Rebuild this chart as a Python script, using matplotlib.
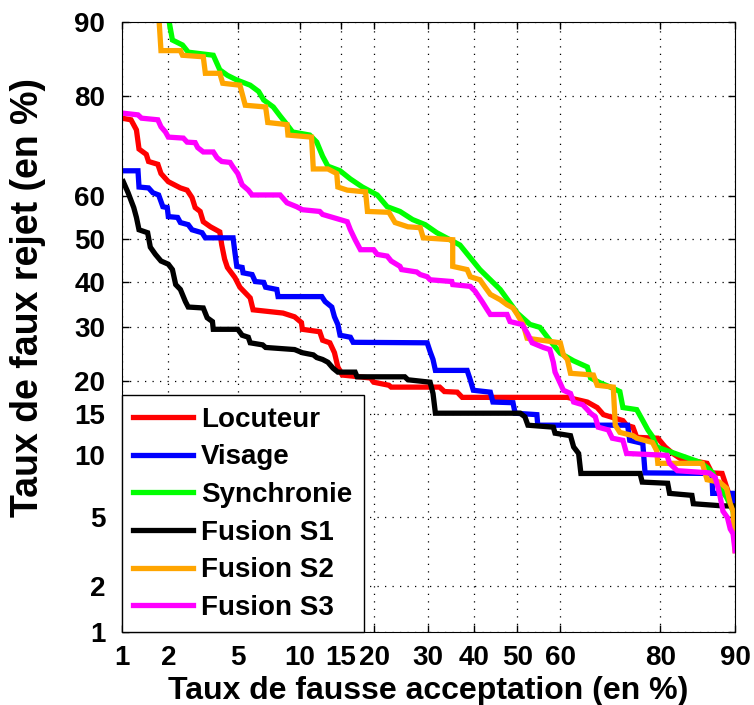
from statistics import NormalDist

import matplotlib
matplotlib.use("Agg")
import matplotlib.pyplot as plt
import numpy as np

# DET curves, values in percent (false acceptance, false rejection)
tick_values = [1, 2, 5, 10, 15, 20, 30, 40, 50, 60, 80, 90]

locuteur_fa = [1.0, 1.15, 1.25, 1.3, 1.45, 1.5, 1.72, 1.8, 2.0, 2.37, 2.6, 2.78, 2.9, 3.1, 3.23, 3.55,
               4.0, 4.1, 4.25, 4.4, 4.83, 5.13, 5.8, 6.0, 8.4, 9.5, 10.2, 10.3, 12.25, 12.6, 13.5, 14.1,
               14.55, 15.15, 19.4, 19.9, 22.5, 22.9, 32.4, 33.4, 36.2, 37.3, 61.6, 66, 68.1, 69.4, 73.3,
               74, 75.2, 75.9, 79.6, 80.8, 82, 83.1, 86.8, 87.4, 88.6, 89.1, 89.8, 90]
locuteur_fr = [76.2, 75.9, 74, 70.2, 69.1, 67.6, 67, 65, 63.2, 61.8, 61.3, 59.6, 57.3, 56.4, 54, 52.8,
               51.6, 48.5, 45.2, 43.25, 40.9, 38.7, 36.3, 33.7, 33, 32.2, 31, 29.6, 29.1, 27.4, 26.9, 25,
               22.4, 21, 20.5, 19.8, 19.3, 19, 19, 18.3, 18.2, 17.4, 17.4, 16.7, 15.9, 14.9, 14.1,
               13.5, 13.25, 12, 11.9, 10.9, 10.2, 9.7, 9.2, 8.3, 8.25, 7.1, 5.7, 4.5]

visage_fa = [1.02, 1.28, 1.3, 1.5, 1.6, 1.74, 1.85, 1.97, 2.0, 2.28, 2.37, 2.64, 2.78, 3.18, 3.32, 4.72,
             4.83, 4.94, 5.27, 5.33, 5.93, 6.15, 6.78, 6.93, 7.85, 7.96, 12.5, 12.9, 13.75, 14.1, 14.55,
             14.85, 16.3, 16.7, 29.8, 30.4, 31, 31.5, 38.4, 39.1, 39.8, 43.7, 44.3, 49, 49.5, 54.6, 54.8,
             74.2, 74.6, 77, 77.4, 87.4, 87.5, 89.8, 90]
visage_fr = [65.6, 65.6, 62, 61.8, 60.7, 60.2, 57.5, 57.3, 55.2, 55, 53.8, 53.3, 52.1, 51.4, 50.2, 50.2,
             46.7, 43.5, 43.25, 42, 41.6, 40, 39.8, 38.7, 38.2, 36.6, 36.6, 35.5, 34.3, 32.2, 30.6,
             28.4, 28, 27, 26.9, 25.2, 23.75, 21.8, 21.8, 20.2, 18.5, 18.2, 16.7, 16.6, 15.1, 14.9, 13.5,
             13.5, 11.65, 11.3, 8.3, 8.25, 6.6, 6.6, 5.35]

synchro_fa = [1.92, 2.12, 2.44, 2.64, 3.68, 4.0, 4.4, 4.94, 5.8, 6.4, 6.78, 7.55, 8.14, 8.77, 9.3, 11.1,
              11.9, 12.6, 13.25, 14.85, 16.3, 18.1, 20.5, 22.2, 24.5, 26.9, 29.4, 31.8, 34.6, 36.8, 41.3,
              46, 50, 53, 55.3, 57.6, 60, 63, 66, 66.7, 68.7, 71.4, 72.7, 73.3, 75.9, 77, 77.9, 78.7,
              79.4, 85.9, 86.8, 87.5, 88, 89.1, 89.8, 90]
synchro_fr = [92, 88, 87.4, 86.5, 86.1, 84.1, 83.3, 82.6, 81.8, 80.8, 79.4, 78.2, 76.6, 75, 73.6, 73,
              71.6, 68.7, 66.6, 65.6, 63.8, 62, 60.2, 57.5, 56.4, 54.5, 53.3, 51.4, 49.75, 48.5, 42.75,
              38.2, 33, 30.6, 30, 27.4, 24.9, 23.5, 22.4, 20.5, 19.7, 18.8, 18.3, 15.9, 15.6, 14.1, 12.9, 12.1,
              10.9, 9.3, 8.8, 8.3, 7.4, 6.3, 5.35, 4.5]

s1_fa = [1.02, 1.1, 1.2, 1.25, 1.3, 1.48, 1.54, 1.66, 1.8, 2.0, 2.12, 2.22, 2.37, 2.54, 2.64, 3.23, 3.4,
         3.64, 3.68, 5.0, 5.27, 5.67, 5.8, 6.7, 6.93, 9.5, 10.3, 11.5, 11.9, 12.6, 13.25, 13.9, 14.55, 17,
         17.3, 25.4, 26, 30.4, 31, 31.5, 50.7, 51.8, 52.5, 58.4, 58.8, 62.3, 63, 64.1, 64.6, 76.5, 76.9,
         81.2, 81.5, 84.8, 85, 88.7, 90]
s1_fr = [63.2, 60.7, 57.3, 55, 52.1, 51.4, 48, 46.3, 44.75, 44, 42.75, 39.3, 38.2, 35.5, 34.3, 34.1, 32,
         31.2, 29.6, 29.6, 28.4, 28, 26.9, 26.5, 26, 25.6, 25, 24.6, 24.1, 23.75, 23.25, 22.2, 21.5, 21.5,
         20.7, 20.7, 20.2, 19.8, 18, 15.1, 15.1, 14.6, 13.5, 13.25, 12.5, 12.2, 10.9, 10.2, 8.25, 8.25, 7.5,
         7.4, 6.6, 6.45, 5.85, 5.7, 5.7]

s2_fa = [1.72, 1.8, 2.37, 2.44, 3.23, 3.32, 4.0, 4.15, 5.13, 5.47, 6.93, 7.1, 8.77, 8.86, 11.3, 11.5,
         13.25, 14.4, 14.55, 15.85, 18.6, 18.9, 22.5, 23.6, 26, 28.4, 29, 35.2, 35.2, 38.4, 39.1, 41.3,
         42.5, 43.7, 46, 47.6, 49, 50, 51.4, 52.3, 60, 60.7, 61.6, 62.3, 67.3, 68.1, 71.4, 71.8, 72.7,
         75.2, 75.9, 78.7, 79.4, 79.6, 86.2, 86.8, 88.3, 89.1, 89.5, 89.8, 90]
s2_fr = [92, 86.7, 86.7, 86.1, 85.9, 83.6, 83.6, 82.1, 81.8, 78.5, 78.2, 75.4, 75, 73, 72.6, 66,
         66, 65, 62, 61.3, 60.9, 56.4, 56.2, 53.8, 52.8, 52.6, 50.2, 49.75, 43.5, 42.75, 41.1, 40.4,
         38.7, 37.1, 35.9, 34.8, 34.1, 32.7, 30.6, 27.8, 26.9, 24.6, 23.75, 21.3, 21, 19.3, 19, 13.5, 12.6,
         12.2, 11.9, 11.4, 10.5, 9.2, 9.2, 7.7, 7.5, 7, 5.85, 5.35, 3.25]

s3_fa = [1.02, 1.28, 1.35, 1.72, 1.8, 1.92, 2.0, 2.47, 2.6, 2.9, 3.0, 3.23, 3.68, 3.86, 4.1, 4.55, 4.72,
         5.0, 5.27, 5.67, 5.93, 8.14, 8.77, 9.7, 10.3, 12.25, 12.6, 14.85, 15.85, 16.3, 17, 17.8, 19.9,
         20.5, 22.2, 22.9, 24.5, 24.8, 27.7, 28.4, 29.8, 30.4, 35, 35.2, 39.1, 40.2, 41.8, 43, 43.7, 47.6,
         48.3, 51.1, 52.3, 53.5, 56.1, 57.6, 58.4, 58.8, 60, 60.7, 62.3, 63, 65, 66, 66.7, 67.7, 68.3,
         70.4, 71.2, 73.3, 74, 81.1, 81.5, 82.7, 87.1, 87.8, 88.3, 88.7, 89.2, 89.5, 89.8, 90]
s3_fr = [77.1, 76.8, 76.2, 75.9, 74.6, 73.6, 72.6, 72.4, 71.6, 71.5, 70.5, 69.6, 69.6, 68.4, 67.6, 67.4, 66.4,
         65, 62.5, 61.3, 60.2, 60.2, 58.4, 57.5, 56.8, 56.4, 55.7, 54.5, 54, 52.1, 49.75, 47.4, 47.4,
         46.3, 45.9, 44.75, 43.5, 42.75, 42.2, 41.6, 41.1, 40.4, 40, 39.3, 38.9, 37.8, 35.5, 33.7, 32.7, 32.7,
         31.2, 30.6, 28.9, 26.9, 26, 25.6, 23.25, 21.5, 19.6, 18.5, 18, 16.7, 16.3, 15.6, 15.1, 14.6, 13.25,
         12.9, 11.9, 11.65, 10.2, 10, 9.2, 8.5, 8.3, 7.9, 6.6, 5.35, 4.95, 4.3, 4.05, 3.25]

curves = [
    ("Locuteur", locuteur_fa, locuteur_fr, "#ff0000"),
    ("Visage", visage_fa, visage_fr, "#0000ff"),
    ("Synchronie", synchro_fa, synchro_fr, "#00ff00"),
    ("Fusion S1", s1_fa, s1_fr, "#000000"),
    ("Fusion S2", s2_fa, s2_fr, "#ffa500"),
    ("Fusion S3", s3_fa, s3_fr, "#ff00ff"),
]

_nd = NormalDist()


def probit(pct):
    return np.array([_nd.inv_cdf(p / 100.0) for p in pct])


plt.rcParams["font.family"] = ["Liberation Sans", "DejaVu Sans"]
plt.rcParams["font.weight"] = "bold"

fig = plt.figure(figsize=(7.54, 7.05), dpi=100)
ax = fig.add_axes([0.1618, 0.1035, 0.813, 0.8653])

for name, fa, fr, color in curves:
    ax.plot(probit(fa), probit(fr), color=color, lw=3.8, label=name, solid_joinstyle="miter")

lo, hi = probit([1, 90])
ax.set_xlim(lo, hi)
ax.set_ylim(lo, hi)
ticks = probit(tick_values)
ax.set_xticks(ticks)
ax.set_yticks(ticks)
ax.set_xticklabels([str(t) for t in tick_values], fontsize=20, fontweight="bold")
ax.set_yticklabels([str(t) for t in tick_values], fontsize=20, fontweight="bold")
ax.tick_params(direction="in", length=5, width=1, top=True, right=True)
ax.tick_params(axis="x", pad=9)
ax.tick_params(axis="y", pad=12)
ax.grid(True, color="black", linestyle=(0, (1, 5)), linewidth=0.9)

ax.set_xlabel("Taux de fausse acceptation (en %)", fontsize=23, fontweight="bold")
ax.xaxis.set_label_coords(0.5, -0.072)
ax.xaxis.label.set_va("top")
ax.set_ylabel("Taux de faux rejet (en %)", fontsize=27, fontweight="bold")
ax.yaxis.set_label_coords(-0.124, 0.549)

leg = ax.legend(loc="lower left", borderaxespad=0, fancybox=False, framealpha=1,
                edgecolor="black", fontsize=20, handlelength=2.15, labelspacing=0.42,
                handletextpad=0.3, borderpad=0.4)
leg.get_frame().set_linewidth(1.0)
for t in leg.get_texts():
    t.set_fontweight("bold")

fig.savefig("out.png", dpi=100)
